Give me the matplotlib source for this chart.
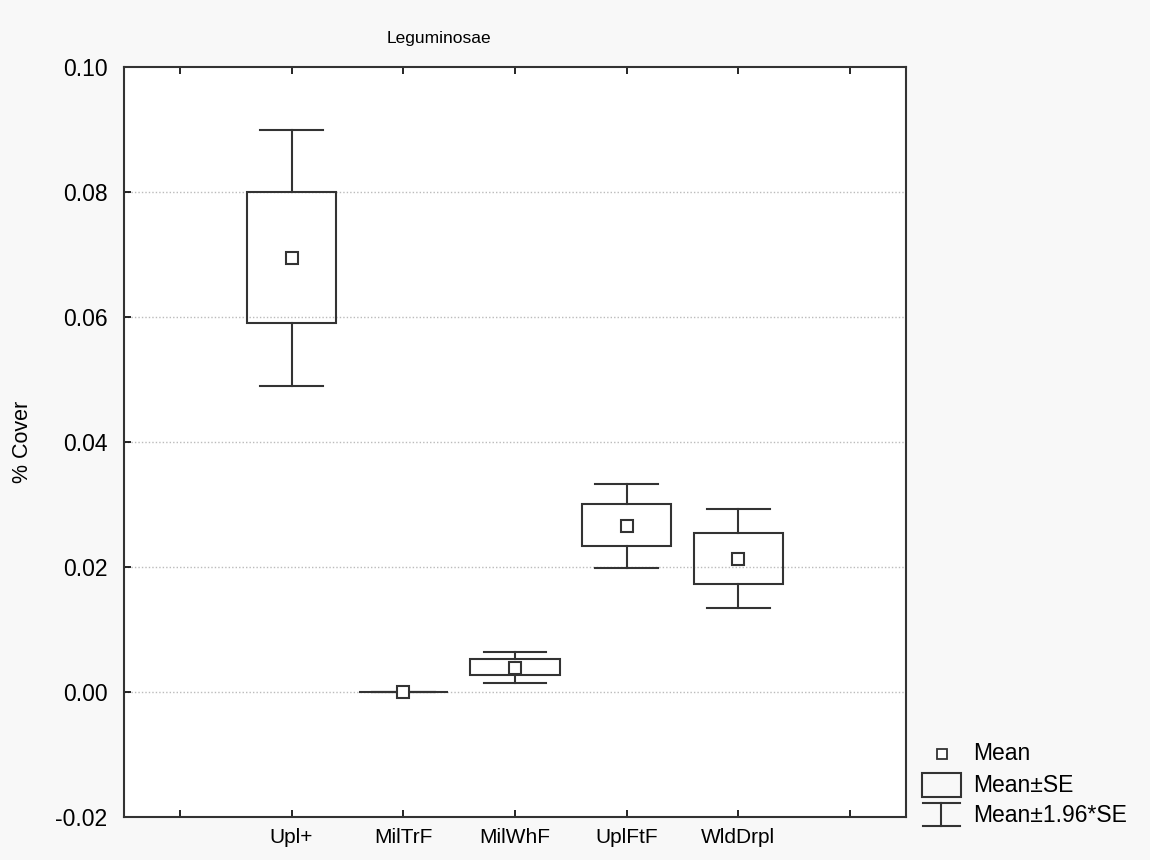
import matplotlib.pyplot as plt
from matplotlib.patches import Rectangle
import numpy as np

plt.rcParams['font.family'] = ['Liberation Sans', 'DejaVu Sans']

# Leguminosae cover by habitat: mean, +/- SE, +/- 1.96*SE
groups = ["Upl+", "MilTrF", "MilWhF", "UplFtF", "WldDrpl"]
means = [0.0694, 0.0, 0.0038, 0.0266, 0.0213]
se_low = [0.0590, 0.0, 0.0027, 0.0234, 0.0173]
se_high = [0.0800, 0.0, 0.0053, 0.0301, 0.0255]
ci_low = [0.0489, 0.0, 0.0014, 0.0199, 0.0135]
ci_high = [0.0900, 0.0, 0.0064, 0.0333, 0.0293]

line_col = "#333333"
fig = plt.figure(figsize=(11.5, 8.6), dpi=100, facecolor="#f8f8f8")
ax = fig.add_axes([0.1078, 0.05, 0.68, 0.872])
ax.set_facecolor("white")

box_w = 0.8
cap_w = 0.56
xs = np.arange(1, len(groups) + 1)
for x, m, sl, sh, cl, ch in zip(xs, means, se_low, se_high, ci_low, ci_high):
    ax.add_patch(Rectangle((x - box_w / 2, sl), box_w, sh - sl, fill=False,
                           edgecolor=line_col, lw=1.5, zorder=3))
    ax.plot([x, x], [sh, ch], color=line_col, lw=1.5, zorder=3)
    ax.plot([x, x], [cl, sl], color=line_col, lw=1.5, zorder=3)
    ax.plot([x - cap_w / 2, x + cap_w / 2], [ch, ch], color=line_col, lw=1.5, zorder=3)
    ax.plot([x - cap_w / 2, x + cap_w / 2], [cl, cl], color=line_col, lw=1.5, zorder=3)
ax.plot(xs, means, ls="none", marker="s", ms=8, mfc="white", mec=line_col,
        mew=1.5, zorder=4)

ax.set_xlim(-0.5, 6.5)
ax.set_ylim(-0.02, 0.10)
ax.set_xticks(np.arange(0, 7))
ax.set_xticklabels([""] + groups + [""], fontsize=15)
ax.set_yticks(np.arange(-0.02, 0.101, 0.02))
ax.set_yticklabels(["%.2f" % v for v in np.arange(-0.02, 0.101, 0.02)], fontsize=16.5)
ax.tick_params(axis="x", direction="in", length=5, width=1.2, top=True, pad=8)
ax.tick_params(axis="y", direction="in", length=5, width=1.2, pad=12)
for v in [0.0, 0.02, 0.04, 0.06, 0.08]:
    ax.axhline(v, color="#bbbbbb", lw=1, ls=(0, (1, 1.5)), zorder=1)
for s in ax.spines.values():
    s.set_color(line_col)
    s.set_linewidth(1.5)

fig.text(439 / 1150, 1 - 38 / 860, "Leguminosae", fontsize=12.5,
         ha="center", va="center")
ax.set_ylabel("% Cover", fontsize=15.5, labelpad=16)

# legend drawn in figure pixels
leg = fig.add_axes([0, 0, 1, 1], facecolor="none")
leg.set_xlim(0, 1150)
leg.set_ylim(860, 0)
leg.axis("off")
leg.plot([942], [754], marker="s", ms=7, mfc="white", mec=line_col, mew=1.3)
leg.add_patch(Rectangle((922, 773), 39, 24, fill=False, edgecolor=line_col, lw=1.5))
leg.plot([923, 960], [803, 803], color=line_col, lw=1.5)
leg.plot([923, 960], [826, 826], color=line_col, lw=1.5)
leg.plot([941, 941], [803, 826], color=line_col, lw=1.5)
leg.text(973, 754, "Mean", fontsize=16.5, va="center")
leg.text(973, 786, "Mean±SE", fontsize=16.5, va="center")
leg.text(973, 815, "Mean±1.96*SE", fontsize=16.5, va="center")

fig.savefig("out.png", dpi=100, facecolor=fig.get_facecolor())
